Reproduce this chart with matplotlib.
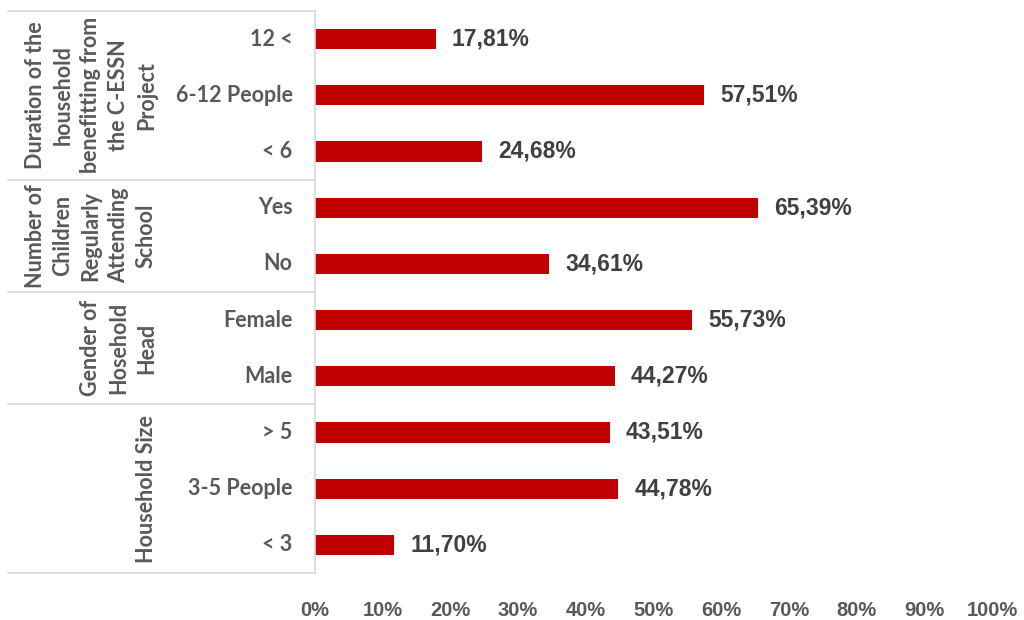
import matplotlib.pyplot as plt
import numpy as np

# data, top to bottom as in the chart
categories = ['12 <', '6-12 People', '< 6', 'Yes', 'No', 'Female', 'Male',
              '> 5', '3-5 People', '< 3']
values = [17.81, 57.51, 24.68, 65.39, 34.61, 55.73, 44.27, 43.51, 44.78, 11.70]
groups = ['Duration of the\nhousehold\nbenefitting from\nthe C-ESSN\nProject',
          'Number of\nChildren\nRegularly\nAttending\nSchool',
          'Gender of\nHosehold\nHead',
          'Household Size']
group_sizes = [3, 2, 2, 3]
xticks = [0, 10, 20, 30, 40, 50, 60, 70, 80, 90, 100]

bar_color = '#C00000'
text_gray = '#595959'
line_gray = '#D9D9D9'

fig = plt.figure(figsize=(10.24, 6.2), dpi=100)
ax = fig.add_axes([315 / 1024, 1 - 573 / 620, 677 / 1024, 562 / 620])

y = np.arange(len(categories))
ax.barh(y, values, height=0.36, color=bar_color)
ax.set_ylim(len(categories) - 0.5, -0.5)
ax.set_xlim(0, 100)

# value labels
for yi, v in zip(y, values):
    ax.text(v + 2.4, yi, f'{v:.2f}%'.replace('.', ','), va='center', ha='left',
            fontsize=16.5, fontweight='bold', color='#404040',
            family='Liberation Sans')

# x axis
ax.set_xticks(xticks)
ax.set_xticklabels([f'{t}%' for t in xticks], fontsize=14.5, fontweight='bold',
                   color=text_gray, family='Liberation Sans')
ax.tick_params(axis='x', length=0, pad=20)
ax.set_yticks([])
for s in ['top', 'right', 'bottom']:
    ax.spines[s].set_visible(False)
ax.spines['left'].set_color(line_gray)
ax.spines['left'].set_linewidth(1.2)

# category labels
trans = ax.get_yaxis_transform()
for yi, c in zip(y, categories):
    ax.text(-0.033, yi, c, transform=trans, ha='right', va='center',
            fontsize=15.5, fontweight='bold', color=text_gray, family='Lato')

# group table lines and labels
left = (8 - 315) / 677
bounds = np.concatenate([[0], np.cumsum(group_sizes)]) - 0.5
for b in bounds:
    ax.plot([left, 0], [b, b], transform=trans, color=line_gray, lw=1.2,
            clip_on=False)
for g, b0, b1 in zip(groups, bounds[:-1], bounds[1:]):
    ax.text((157 - 315) / 677, (b0 + b1) / 2, g, transform=trans, rotation=90,
            ha='right', va='center', multialignment='center', fontsize=15.5,
            fontweight='bold', color=text_gray, family='Lato',
            linespacing=1.4)

fig.savefig('out.png', dpi=100)
